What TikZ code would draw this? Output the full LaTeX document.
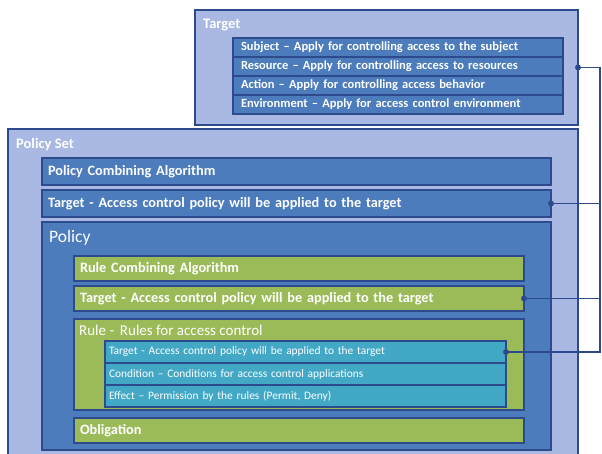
\documentclass[tikz,border=0pt]{standalone}
\usepackage{fontspec}
\setmainfont{Carlito}
\usetikzlibrary{positioning}
\definecolor{navy}{RGB}{44,74,140}
\definecolor{pale}{RGB}{170,185,228}
\definecolor{steel}{RGB}{76,124,188}
\definecolor{olive}{RGB}{155,187,89}
\definecolor{aqua}{RGB}{66,168,198}
\tikzstyle{panel} = [rectangle, draw=navy, line width=2pt, outer sep=0pt, inner sep=0pt, anchor=north west]
\tikzstyle{outer} = [panel, fill=pale]
\tikzstyle{head} = [text=white, inner sep=0pt, font=\bfseries\fontsize{14.5}{14.5}\selectfont]
\tikzstyle{row} = [panel, text=white, align=left, inner xsep=6pt, font=\bfseries\fontsize{14.3}{14.3}\selectfont]
\tikzstyle{attr} = [row, inner xsep=8pt, text width=314pt, minimum height=19pt, fill=steel, font=\bfseries\fontsize{12.5}{12.5}\selectfont]
\tikzstyle{setrow} = [row, fill=steel, text width=497pt, minimum height=27pt]
\tikzstyle{polrow} = [row, fill=olive, text width=438pt, minimum height=25pt]
\tikzstyle{rulerow} = [row, inner xsep=4pt, fill=aqua, text width=393pt, minimum height=22pt, font=\fontsize{11.4}{11.4}\selectfont]
\tikzstyle{link} = [draw=navy, line width=1.6pt]
\tikzstyle{dot} = [circle, fill=navy, inner sep=0pt, minimum size=6pt]

\begin{document}
\begin{tikzpicture}[x=1pt, y=-1pt]
    \useasboundingbox (0,0) rectangle (602,454);
    \clip (0,0) rectangle (602,454);

    % Target on its own.
    \node (tgt) [outer, minimum width=383pt, minimum height=115pt] at (195,10) {};
    \node (tgthead) [head, below right=15pt and 8pt of tgt.north west, anchor=west] {Target};
    \node (subj) [attr] at (233,38) {Subject -- Apply for controlling access to the subject};
    \node (res) [attr, below=0pt of subj] {Resource -- Apply for controlling access to resources};
    \node (act) [attr, below=0pt of res] {Action -- Apply for controlling access behavior};
    \node (env) [attr, below=0pt of act] {Environment -- Apply for access control environment};

    % Policy set.
    \node (pset) [outer, minimum width=570pt, minimum height=340pt] at (8,129) {};
    \node (psethead) [head, below right=16pt and 8pt of pset.north west, anchor=west] {Policy Set};
    \node (pca) [setrow] at (42,158) {Policy Combining Algorithm};
    \node (psettgt) [setrow, below=5pt of pca] {Target - Access control policy will be applied to the target};

    % Policy.
    \node (pol) [panel, fill=steel, minimum width=509pt, minimum height=228pt, below=5pt of psettgt] {};
    \node (polhead) [head, font=\fontsize{17.5}{17.5}\selectfont, below right=16pt and 7pt of pol.north west, anchor=west] {Policy};
    \node (rca) [polrow] at (74,256) {Rule Combining Algorithm};
    \node (poltgt) [polrow, below=5pt of rca] {Target - Access control policy will be applied to the target};
    \node (rule) [panel, fill=olive, minimum width=450pt, minimum height=91pt, below=8pt of poltgt] {};
    \node (rulehead) [head, font=\fontsize{15}{15}\selectfont, below right=11pt and 5pt of rule.north west, anchor=west] {Rule -\, Rules for access control};
    \node (obl) [polrow, below=8pt of rule] {Obligation};

    % Rule contents.
    \node (ruletgt) [rulerow] at (105,341) {Target - Access control policy will be applied to the target};
    \node (cond) [rulerow, below=0pt of ruletgt] {Condition -- Conditions for access control applications};
    \node (eff) [rulerow, below=0pt of cond] {Effect -- Permission by the rules (Permit, Deny)};

    % Links to the shared target.
    \coordinate (bus) at (600,352);
    \draw [link] (tgt.east) -| (bus) -- (ruletgt.east);
    \foreach \t in {psettgt, poltgt} {
        \draw [link] (\t.east) -- (\t.east -| bus);
    }
    \foreach \t in {tgt, psettgt, poltgt, ruletgt} {
        \node (\t dot) [dot] at (\t.east) {};
    }
\end{tikzpicture}
\end{document}
